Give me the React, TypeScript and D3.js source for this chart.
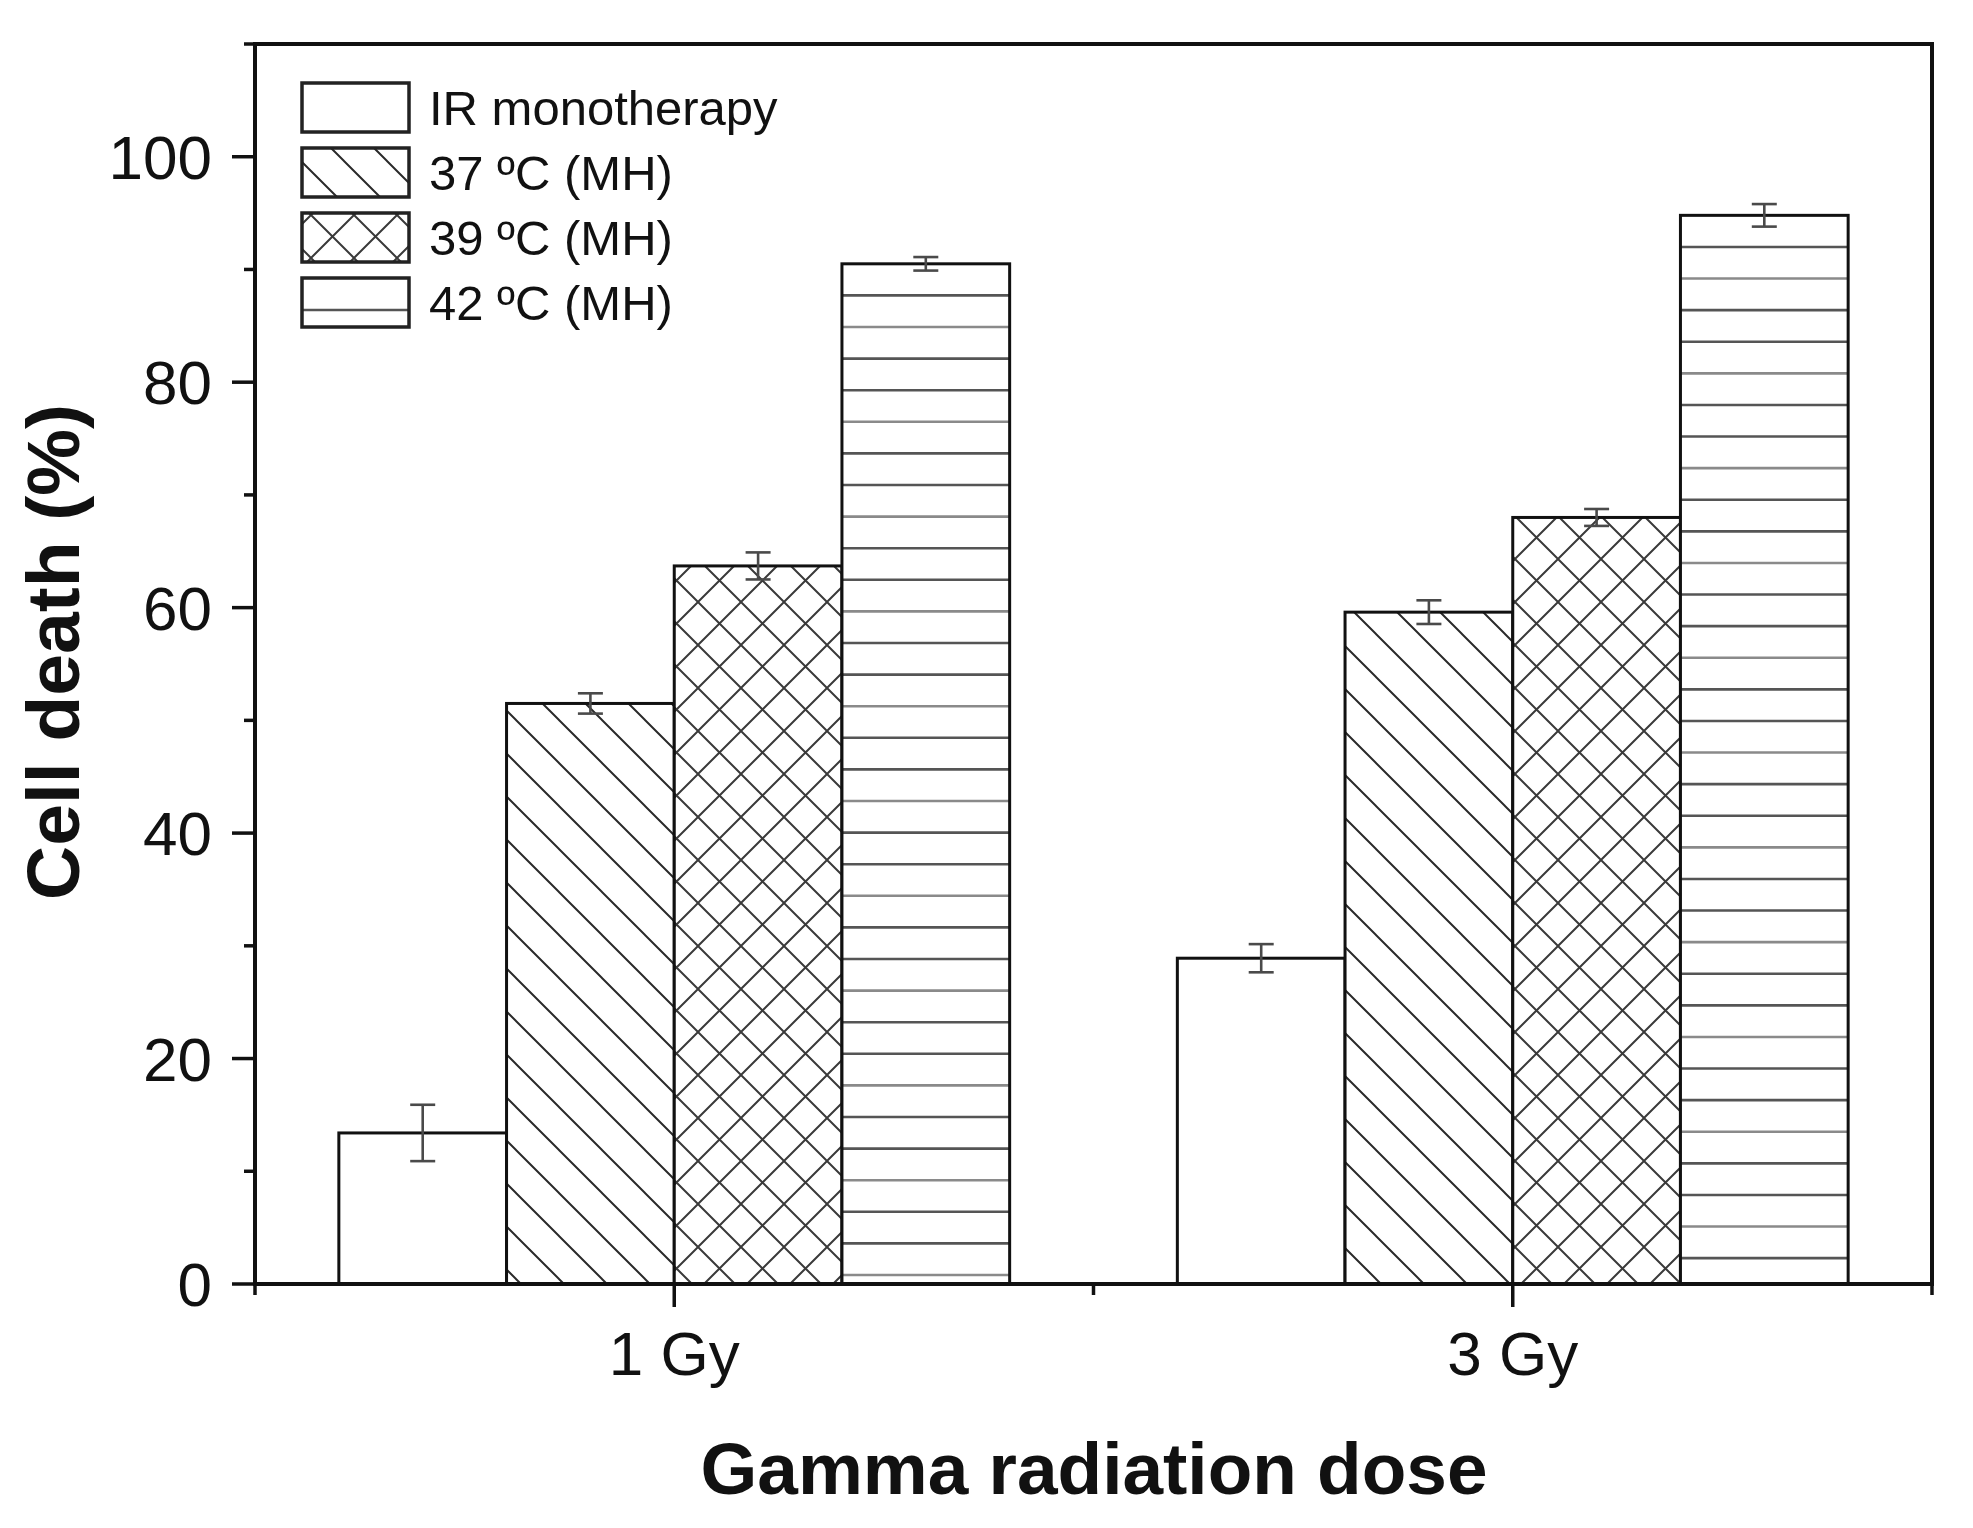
import React from "react";
import * as d3 from "d3";

const categories = ["1 Gy", "3 Gy"];
const categoryPositions = [1, 3];
const seriesNames = ["IR monotherapy", "37 ºC (MH)", "39 ºC (MH)", "42 ºC (MH)"];
const seriesPatterns = ["none", "diag", "cross", "horiz"];
const values1Gy = [13.4, 51.5, 63.7, 90.5];
const values3Gy = [28.9, 59.6, 68.0, 94.8];
const errors1Gy = [2.5, 0.9, 1.2, 0.6];
const errors3Gy = [1.25, 1.05, 0.75, 1.0];
const yMajorTicks = [0, 20, 40, 60, 80, 100];
const yMinorTicks = [10, 30, 50, 70, 90, 110];
const xMajorTicks = [1, 3];
const xMinorTicks = [0, 2, 4];

const W = 1973;
const H = 1528;
const FONT = "'Liberation Sans', Arial, Helvetica, sans-serif";

const x = d3.scaleLinear().domain([0, 4]).range([255, 1932]);
const y = d3.scaleLinear().domain([0, 110]).range([1284, 44]);
const barW = 0.4;

const values = [values1Gy, values3Gy];
const errors = [errors1Gy, errors3Gy];

const HSTEP = 31.6;
const DSTEP = 43;

function Bar({ gi, si }: { gi: number; si: number }) {
  const v = values[gi][si];
  const x0 = x(categoryPositions[gi] - 0.8 + si * barW);
  const x1 = x(categoryPositions[gi] - 0.8 + (si + 1) * barW);
  const yt = y(v);
  const yb = y(0);
  const p = seriesPatterns[si];
  const hLines = p === "horiz" ? d3.range(yt + HSTEP, yb - 2, HSTEP) : [];
  return (
    <g>
      <rect x={x0} y={yt} width={x1 - x0} height={yb - yt} fill="#fff" />
      {p === "diag" && <rect x={x0} y={yt} width={x1 - x0} height={yb - yt} fill="url(#pdiag)" />}
      {p === "cross" && <rect x={x0} y={yt} width={x1 - x0} height={yb - yt} fill="url(#pcross)" />}
      {hLines.map((ly, k) => (
        <line key={k} x1={x0} x2={x1} y1={ly} y2={ly} stroke={k % 3 === 1 ? "#8a8a8a" : "#555"} strokeWidth={2.6} />
      ))}
      <rect x={x0} y={yt} width={x1 - x0} height={yb - yt} fill="none" stroke="#111" strokeWidth={3} />
    </g>
  );
}

function ErrorBar({ gi, si }: { gi: number; si: number }) {
  const v = values[gi][si];
  const e = errors[gi][si];
  const cx = x(categoryPositions[gi] - 0.8 + (si + 0.5) * barW);
  const ya = y(v + e);
  const yb2 = y(v - e);
  const cw = 12.5;
  return (
    <g stroke="#4a4a4a" strokeWidth={2.6}>
      <line x1={cx} x2={cx} y1={ya} y2={yb2} />
      <line x1={cx - cw} x2={cx + cw} y1={ya} y2={ya} />
      <line x1={cx - cw} x2={cx + cw} y1={yb2} y2={yb2} />
    </g>
  );
}

export default function App() {
  const left = x.range()[0];
  const right = x.range()[1];
  const top = y.range()[1];
  const bottom = y.range()[0];
  return (
    <div style={{ position: "absolute", left: 0, top: 0 }}>
      <svg width={W} height={H} viewBox={`0 0 ${W} ${H}`} style={{ display: "block", background: "#fff" }}>
        <defs>
          <pattern id="pdiag" patternUnits="userSpaceOnUse" width={DSTEP} height={DSTEP} x={0} y={32}>
            <path
              d={`M0,0L${DSTEP},${DSTEP}M${-DSTEP / 2},${DSTEP / 2}L${DSTEP / 2},${DSTEP * 1.5}M${DSTEP / 2},${-DSTEP / 2}L${DSTEP * 1.5},${DSTEP / 2}`}
              stroke="#2a2a2a"
              strokeWidth={2}
              fill="none"
            />
          </pattern>
          <pattern id="pcross" patternUnits="userSpaceOnUse" width={DSTEP} height={DSTEP} x={10} y={0}>
            <path
              d={`M0,0L${DSTEP},${DSTEP}M${-DSTEP / 2},${DSTEP / 2}L${DSTEP / 2},${DSTEP * 1.5}M${DSTEP / 2},${-DSTEP / 2}L${DSTEP * 1.5},${DSTEP / 2}M${DSTEP},0L0,${DSTEP}M${DSTEP * 1.5},${DSTEP / 2}L${DSTEP / 2},${DSTEP * 1.5}M${DSTEP / 2},${-DSTEP / 2}L${-DSTEP / 2},${DSTEP / 2}`}
              stroke="#3a3a3a"
              strokeWidth={2}
              fill="none"
            />
          </pattern>
        </defs>
        <rect x={0} y={0} width={W} height={H} fill="#fff" />

        {/* bars */}
        {categories.map((c, gi) => (
          <g key={c}>
            {seriesNames.map((s, si) => (
              <Bar key={s} gi={gi} si={si} />
            ))}
          </g>
        ))}
        {categories.map((c, gi) => (
          <g key={c + "e"}>
            {seriesNames.map((s, si) => (
              <ErrorBar key={s} gi={gi} si={si} />
            ))}
          </g>
        ))}

        {/* frame */}
        <rect x={left} y={top} width={right - left} height={bottom - top} fill="none" stroke="#111" strokeWidth={4} />

        {/* ticks */}
        <g stroke="#111" strokeWidth={3.5}>
          {yMajorTicks.map((t) => (
            <line key={t} x1={left - 23} x2={left} y1={y(t)} y2={y(t)} />
          ))}
          {yMinorTicks.map((t) => (
            <line key={t} x1={left - 11} x2={left} y1={y(t)} y2={y(t)} />
          ))}
          {xMajorTicks.map((t) => (
            <line key={t} x1={x(t)} x2={x(t)} y1={bottom} y2={bottom + 23} />
          ))}
          {xMinorTicks.map((t) => (
            <line key={t} x1={x(t)} x2={x(t)} y1={bottom} y2={bottom + 11} />
          ))}
        </g>
        <g fontFamily={FONT} fontSize={62} fill="#111">
          {yMajorTicks.map((t) => (
            <text key={t} x={212} y={y(t) + 22} textAnchor="end">
              {t}
            </text>
          ))}
          {categories.map((c, gi) => (
            <text key={c} x={x(categoryPositions[gi])} y={1375} textAnchor="middle">
              {c}
            </text>
          ))}
        </g>

        {/* axis titles */}
        <text
          transform={`translate(79, 652) rotate(-90)`}
          textAnchor="middle"
          fontFamily={FONT}
          fontWeight="bold"
          fontSize={75}
          fill="#111"
        >
          Cell death (%)
        </text>
        <text x={1094} y={1494} textAnchor="middle" fontFamily={FONT} fontWeight="bold" fontSize={73} fill="#111">
          Gamma radiation dose
        </text>

        {/* legend */}
        {seriesNames.map((s, i) => {
          const bx = 302;
          const by = 83 + i * 65;
          const bw = 107;
          const bh = 49;
          const p = seriesPatterns[i];
          return (
            <g key={s}>
              <rect x={bx} y={by} width={bw} height={bh} fill="#fff" />
              {p === "diag" && <rect x={bx} y={by} width={bw} height={bh} fill="url(#pdiag)" />}
              {p === "cross" && <rect x={bx} y={by} width={bw} height={bh} fill="url(#pcross)" />}
              {p === "horiz" && (
                <line x1={bx} x2={bx + bw} y1={by + 32} y2={by + 32} stroke="#555" strokeWidth={2.6} />
              )}
              <rect x={bx} y={by} width={bw} height={bh} fill="none" stroke="#222" strokeWidth={3.5} />
              <text x={429} y={by + 42} fontFamily={FONT} fontSize={49} fill="#111">
                {s}
              </text>
            </g>
          );
        })}
      </svg>
    </div>
  );
}
